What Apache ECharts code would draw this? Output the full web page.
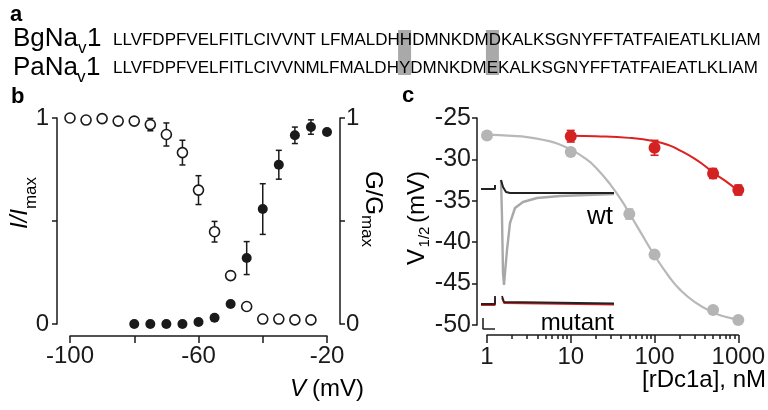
<!DOCTYPE html>
<html>
<head>
<meta charset="utf-8">
<script src="https://cdn.jsdelivr.net/npm/echarts@6/dist/echarts.min.js"></script>
<style>
  html, body { margin: 0; padding: 0; background: #fff; }
  #main { width: 768px; height: 410px; }
</style>
</head>
<body>
<div id="main"></div>
<script>
// panel a: sequences, highlighted positions (0-based)
var seqBg = 'LLVFDPFVELFITLCIVVNT LFMALDHHDMNKDMDKALKSGNYFFTATFAIEATLKLIAM';
var seqPa = 'LLVFDPFVELFITLCIVVNMLFMALDHYDMNKDMEKALKSGNYFFTATFAIEATLKLIAM';
var marked = [27, 34];

// panel b: inactivation (open) and activation (filled)
var inactV = [-100, -95, -90, -85, -80, -75, -70, -65, -60, -55, -50, -45, -40, -35, -30, -25];
var inactMean = [1.0, 0.99, 0.997, 0.985, 0.985, 0.968, 0.92, 0.832, 0.65, 0.448, 0.235, 0.085, 0.024, 0.024, 0.02, 0.02];
var inactErr = [0, 0.01, 0.01, 0.01, 0, 0.03, 0.056, 0.06, 0.07, 0.05, 0, 0, 0.01, 0.01, 0.01, 0.01];
var actV = [-80, -75, -70, -65, -60, -55, -50, -45, -40, -35, -30, -25, -20];
var actMean = [0, 0, 0, 0, 0.01, 0.03, 0.097, 0.32, 0.558, 0.773, 0.916, 0.956, 0.932];
var actErr = [0, 0, 0, 0, 0, 0, 0, 0.08, 0.123, 0.07, 0.04, 0.035, 0];

// panel c: V1/2 vs toxin
var wtDose = [1, 10, 50, 100, 500, 1000];
var wtV = [-27.1, -29.1, -36.6, -41.5, -48.2, -49.4];
var wtErr = [0, 0.3, 0.6, 0.3, 0, 0];
var mutDose = [10, 100, 500, 1000];
var mutV = [-27.2, -28.6, -31.7, -33.7];
var mutErr = [0.7, 0.9, 0.6, 0.6];
var wtFitX = [1, 2, 3, 5, 7, 10, 15, 20, 30, 40, 50, 70, 100, 150, 200, 300, 500, 700, 1000];
var wtFitY = [-27.0, -27.15, -27.3, -27.7, -28.1, -28.8, -29.9, -31.0, -33.1, -34.9, -36.5, -39.0, -41.6, -44.2, -45.7, -47.2, -48.5, -49.0, -49.35];
var mutFitX = [10, 20, 50, 100, 150, 200, 300, 400, 500, 700, 1000];
var mutFitY = [-27.15, -27.2, -27.4, -27.8, -28.3, -28.9, -29.9, -30.8, -31.6, -32.6, -33.8];
var minorDose = [2, 3, 4, 5, 6, 7, 8, 9, 20, 30, 40, 50, 60, 70, 80, 90, 200, 300, 400, 500, 600, 700, 800, 900];

// inset traces (arbitrary units)
var wtCtrlL = [[3, 146], [17, 146], [17, 150]];
var wtCtrlR = [[23, 155], [25, 148], [28, 143], [32, 142], [136, 142]];
var wtTox = [[23, 155], [24, 118], [25, 62], [26, 50], [27, 62], [29, 85], [32, 112], [37, 127], [45, 133], [59, 137], [82, 139], [136, 141]];
var mutCtrlL = [[3, 31], [17, 31], [17, 39]];
var mutCtrlR = [[24, 39], [26, 33], [28, 31.5], [136, 31.5]];
var mutToxL = [[3, 30], [17, 30], [17, 37]];
var mutToxR = [[24, 37], [26, 32], [28, 30.3], [136, 30.3]];
var scaleBar = [[5, 17], [5, 6], [17, 6]];

var FONT = 'Liberation Sans';
var INK = '#1a1a1a';

function zip(xs, ys) {
  return xs.map(function (x, i) { return [x, ys[i]]; });
}

function errorSeries(xs, ys, es, xi, yi, color, cap, w) {
  var data = [];
  for (var i = 0; i < xs.length; i++) {
    if (es[i] > 0) data.push([xs[i], ys[i] - es[i], ys[i] + es[i]]);
  }
  return {
    type: 'custom',
    xAxisIndex: xi,
    yAxisIndex: yi,
    z: 3,
    silent: true,
    data: data,
    renderItem: function (params, api) {
      var lo = api.coord([api.value(0), api.value(1)]);
      var hi = api.coord([api.value(0), api.value(2)]);
      var st = { stroke: color, lineWidth: w };
      return {
        type: 'group',
        children: [
          { type: 'line', shape: { x1: lo[0], y1: lo[1], x2: hi[0], y2: hi[1] }, style: st },
          { type: 'line', shape: { x1: lo[0] - cap, y1: lo[1], x2: lo[0] + cap, y2: lo[1] }, style: st },
          { type: 'line', shape: { x1: hi[0] - cap, y1: hi[1], x2: hi[0] + cap, y2: hi[1] }, style: st }
        ]
      };
    }
  };
}

function lineS(data, color, width, xi, yi, smooth) {
  return {
    type: 'line', data: data, xAxisIndex: xi, yAxisIndex: yi,
    showSymbol: false, smooth: smooth || false, z: 2, silent: true,
    lineStyle: { color: color, width: width }
  };
}

var axisBase = {
  axisLine: { onZero: false, lineStyle: { color: INK, width: 1.5 } },
  axisTick: { lineStyle: { color: INK, width: 1.5 } },
  axisLabel: { color: INK, fontSize: 24, fontFamily: FONT },
  splitLine: { show: false }
};

function ax(extra) {
  var o = JSON.parse(JSON.stringify(axisBase));
  for (var k in extra) {
    if (typeof extra[k] === 'object' && !Array.isArray(extra[k]) && o[k]) {
      for (var j in extra[k]) o[k][j] = extra[k][j];
    } else {
      o[k] = extra[k];
    }
  }
  return o;
}

// highlight boxes centred on the marked residues
var seqX = 113;
var seqFont = '17px ' + FONT;
var ctx = document.createElement('canvas').getContext('2d');
ctx.font = seqFont;
var boxes = marked.map(function (i) {
  var x0 = ctx.measureText(seqPa.slice(0, i)).width;
  var w = ctx.measureText(seqPa.charAt(i)).width;
  return {
    type: 'rect', z: 0,
    shape: { x: seqX + x0 + w / 2 - 6.5, y: 30, width: 13, height: 45 },
    style: { fill: '#a9a9a9' }
  };
});

function txt(x, y, s, font, extra) {
  var st = { text: s, font: font, fill: '#000', textVerticalAlign: 'middle' };
  var el = { type: 'text', x: x, y: y, z: 5, style: st };
  if (extra) {
    if (extra.align) st.textAlign = extra.align;
    if (extra.rot) el.rotation = extra.rot;
  }
  return el;
}

var chart = echarts.init(document.getElementById('main'));

var option = {
  animation: false,
  backgroundColor: '#fff',
  grid: [
    { left: 70, top: 118, width: 257, height: 206 },
    { left: 487, top: 118, width: 256, height: 207 },
    { left: 478, top: 175, width: 140, height: 160 }
  ],
  xAxis: [
    ax({ gridIndex: 0, type: 'value', position: 'bottom', min: -100, max: -20, interval: 20, offset: 12,
      axisTick: { length: 7 },
      axisLabel: { margin: 8, formatter: function (v) { return (v === -100 || v === -60 || v === -20) ? String(v) : ''; } } }),
    ax({ gridIndex: 1, type: 'log', logBase: 10, position: 'bottom', min: 1, max: 1000, offset: 10,
      axisTick: { length: 8 },
      axisLabel: { margin: 10, formatter: function (v) { return String(Math.round(v)); } } }),
    ax({ gridIndex: 1, type: 'log', logBase: 10, position: 'bottom', min: 1, max: 1000, offset: 10,
      axisLine: { show: false }, axisLabel: { show: false },
      axisTick: { length: 4, customValues: minorDose } }),
    { gridIndex: 2, type: 'value', min: 0, max: 140, show: false }
  ],
  yAxis: [
    ax({ gridIndex: 0, type: 'value', position: 'left', min: 0, max: 1, interval: 0.5, offset: 13,
      axisTick: { length: 5 },
      axisLabel: { margin: 8, formatter: function (v) { return v === 0.5 ? '' : String(v); } } }),
    ax({ gridIndex: 0, type: 'value', position: 'right', min: 0, max: 1, interval: 0.5, offset: 13,
      axisTick: { length: 5 },
      axisLabel: { margin: 6, formatter: function (v) { return v === 0.5 ? '' : String(v); } } }),
    ax({ gridIndex: 1, type: 'value', position: 'left', min: -50, max: -25, interval: 5, offset: 10,
      axisTick: { length: 5 }, axisLabel: { margin: 6, fontSize: 25 } }),
    { gridIndex: 2, type: 'value', min: 0, max: 160, show: false }
  ],
  series: [
    // panel b
    errorSeries(inactV, inactMean, inactErr, 0, 0, INK, 3, 1.5),
    errorSeries(actV, actMean, actErr, 0, 1, INK, 3, 1.5),
    { type: 'scatter', xAxisIndex: 0, yAxisIndex: 0, data: zip(inactV, inactMean), symbolSize: 10, z: 4, clip: false,
      itemStyle: { color: '#fff', borderColor: INK, borderWidth: 1.6, opacity: 1 } },
    { type: 'scatter', xAxisIndex: 0, yAxisIndex: 1, data: zip(actV, actMean), symbolSize: 10, z: 4, clip: false,
      itemStyle: { color: INK, opacity: 1 } },
    // panel c
    lineS(zip(wtFitX, wtFitY), '#b8b8b8', 2.2, 1, 2, true),
    lineS(zip(mutFitX, mutFitY), '#dd2020', 2, 1, 2, true),
    errorSeries(wtDose, wtV, wtErr, 1, 2, '#b5b5b5', 4, 1.6),
    errorSeries(mutDose, mutV, mutErr, 1, 2, '#d42222', 4, 1.6),
    { type: 'scatter', xAxisIndex: 1, yAxisIndex: 2, data: zip(wtDose, wtV), symbolSize: 12, z: 4, clip: false,
      itemStyle: { color: '#b5b5b5', opacity: 1 } },
    { type: 'scatter', xAxisIndex: 1, yAxisIndex: 2, data: zip(mutDose, mutV), symbolSize: 12, z: 4, clip: false,
      itemStyle: { color: '#d42222', opacity: 1 } },
    // inset traces
    lineS(wtTox, '#a8a8a8', 2.4, 3, 3),
    lineS(wtCtrlL, '#222', 2, 3, 3),
    lineS(wtCtrlR, '#222', 2, 3, 3),
    lineS(mutToxL, '#e02020', 1.8, 3, 3),
    lineS(mutToxR, '#e02020', 1.8, 3, 3),
    lineS(mutCtrlL, '#222', 1.8, 3, 3),
    lineS(mutCtrlR, '#222', 1.8, 3, 3),
    lineS(scaleBar, '#222', 1.6, 3, 3)
  ],
  graphic: boxes.concat([
    // panel letters
    txt(10, 15, 'a', 'bold 22px ' + FONT),
    txt(11, 97, 'b', 'bold 22px ' + FONT),
    txt(402, 96, 'c', 'bold 22px ' + FONT),
    // panel a
    txt(seqX, 40, seqBg, seqFont),
    txt(seqX, 68, seqPa, seqFont),
    txt(13, 39, 'BgNa', '26px ' + FONT),
    txt(78, 48, 'v', '17px ' + FONT),
    txt(87, 39, '1', '26px ' + FONT),
    txt(13, 68, 'PaNa', '26px ' + FONT),
    txt(77, 77, 'v', '17px ' + FONT),
    txt(86, 68, '1', '26px ' + FONT),
    // panel b axis names
    txt(20, 219, 'I/I', 'italic 24px ' + FONT, { align: 'center', rot: Math.PI / 2 }),
    txt(31, 193, 'max', '17px ' + FONT, { align: 'center', rot: Math.PI / 2 }),
    txt(373, 193, 'G/G', '24px ' + FONT, { align: 'center', rot: -Math.PI / 2 }),
    txt(367, 231, 'max', '17px ' + FONT, { align: 'center', rot: -Math.PI / 2 }),
    txt(290, 389, 'V', 'italic 24px ' + FONT),
    txt(312, 389, '(mV)', '24px ' + FONT),
    // panel c axis names and inset labels
    txt(417, 257, 'V', '24px ' + FONT, { align: 'center', rot: Math.PI / 2 }),
    txt(425, 237, '1/2', '15px ' + FONT, { align: 'center', rot: Math.PI / 2 }),
    txt(417, 197, '(mV)', '24px ' + FONT, { align: 'center', rot: Math.PI / 2 }),
    txt(766, 380, '[rDc1a], nM', '24px ' + FONT, { align: 'right' }),
    txt(613, 217, 'wt', '26px ' + FONT, { align: 'right' }),
    txt(614, 323, 'mutant', '24px ' + FONT, { align: 'right' })
  ])
};

chart.setOption(option);
</script>
</body>
</html>
